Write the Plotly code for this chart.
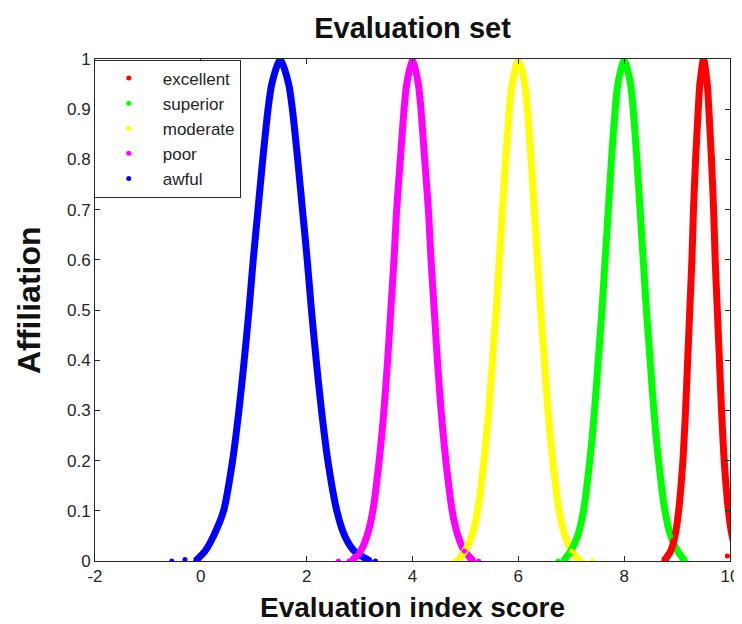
import plotly.graph_objects as go

# ---- data (band centre of each membership curve) ----
y_levels = [0.0, 0.02, 0.05, 0.1, 0.2, 0.3, 0.4, 0.5, 0.6, 0.7, 0.8, 0.9, 0.95, 1.0,
            0.95, 0.9, 0.8, 0.7, 0.6, 0.5, 0.4, 0.3, 0.2, 0.1, 0.05, 0.02, 0.0]

excellent_x = [8.75, 8.88, 8.96, 9.03, 9.11, 9.16, 9.20, 9.24, 9.28, 9.31, 9.35, 9.40, 9.43, 9.50,
               9.57, 9.60, 9.65, 9.69, 9.72, 9.76, 9.80, 9.84, 9.89, 9.97, 10.04, 10.12, 10.25]
superior_x = [6.85, 6.99, 7.12, 7.23, 7.35, 7.44, 7.51, 7.58, 7.64, 7.70, 7.76, 7.83, 7.88, 8.00,
              8.12, 8.17, 8.24, 8.30, 8.36, 8.42, 8.49, 8.56, 8.65, 8.77, 8.88, 9.01, 9.15]
moderate_x = [4.85, 4.99, 5.12, 5.23, 5.35, 5.44, 5.51, 5.58, 5.64, 5.70, 5.76, 5.83, 5.88, 6.00,
              6.12, 6.17, 6.24, 6.30, 6.36, 6.42, 6.49, 6.56, 6.65, 6.77, 6.88, 7.01, 7.15]
poor_x = [2.85, 3.02, 3.14, 3.25, 3.37, 3.46, 3.53, 3.59, 3.65, 3.70, 3.77, 3.84, 3.89, 4.00,
          4.11, 4.16, 4.23, 4.30, 4.35, 4.41, 4.47, 4.54, 4.63, 4.75, 4.86, 4.98, 5.15]
awful_x = [-0.10, 0.08, 0.24, 0.43, 0.60, 0.72, 0.82, 0.91, 0.99, 1.08, 1.17, 1.27, 1.34, 1.50,
           1.66, 1.73, 1.83, 1.92, 2.01, 2.09, 2.18, 2.28, 2.40, 2.57, 2.72, 2.90, 3.20]

# a few isolated dots near the baseline
stray = {
    "excellent": ([8.80, 9.95], [0.0, 0.01]),
    "superior": ([6.75, 9.15, 9.05], [0.0, 0.0, 0.015]),
    "moderate": ([4.80, 7.20, 7.40], [0.0, 0.0, 0.0]),
    "poor": ([2.60, 2.80, 5.25], [0.0, 0.0, 0.0]),
    "awful": ([-0.55, -0.30, 3.30], [0.0, 0.003, 0.0]),
}

series_names = ["excellent", "superior", "moderate", "poor", "awful"]
series_x = [excellent_x, superior_x, moderate_x, poor_x, awful_x]
series_colors = ["#FF0000", "#00FF00", "#FFFF00", "#FF00FF", "#0000FF"]

x_ticks = [-2, 0, 2, 4, 6, 8, 10]
y_ticks = [0, 0.1, 0.2, 0.3, 0.4, 0.5, 0.6, 0.7, 0.8, 0.9, 1]
y_tick_text = ["0", "0.1", "0.2", "0.3", "0.4", "0.5", "0.6", "0.7", "0.8", "0.9", "1"]

FONT = "Liberation Sans, Arial, Helvetica, sans-serif"
AX = "#262626"

fig = go.Figure()

# thick bands (drawn first, no legend)
for name, xs, col in zip(series_names[::-1], series_x[::-1], series_colors[::-1]):
    fig.add_trace(go.Scatter(
        x=xs, y=y_levels, mode="lines", line=dict(color=col, width=7, shape="spline", smoothing=0.7),
        showlegend=False, hoverinfo="skip", legendgroup=name, cliponaxis=True))

# the read points as dots (these carry the legend entries)
for name, xs, col in zip(series_names, series_x, series_colors):
    sx, sy = stray[name]
    fig.add_trace(go.Scatter(
        x=xs + sx, y=y_levels + sy, mode="markers", name=name,
        marker=dict(color=col, size=5, line=dict(width=0)),
        legendgroup=name, cliponaxis=True))

fig.update_layout(
    width=742, height=624,
    margin=dict(l=87, r=11, t=51, b=71),
    paper_bgcolor="white", plot_bgcolor="white",
    font=dict(family=FONT, color=AX),
    showlegend=True,
    title=dict(text="<b>Evaluation set</b>", x=0.5, xref="paper", xanchor="center",
               y=1 - 20 / 624, yanchor="middle", font=dict(size=29, color="#111")),
    legend=dict(x=-0.002, y=0.999, xanchor="left", yanchor="top",
                bordercolor="#262626", borderwidth=1, bgcolor="white",
                font=dict(size=17, color=AX), itemwidth=58,
                traceorder="grouped", tracegroupgap=0),
    xaxis=dict(range=[-2, 10], tickvals=x_ticks, ticktext=[str(v) for v in x_ticks],
               ticks="inside", ticklen=5, tickcolor=AX, showline=True, linecolor=AX,
               linewidth=1, mirror="allticks", showgrid=False, zeroline=False,
               tickfont=dict(size=17, color=AX)),
    yaxis=dict(range=[0, 1], tickvals=y_ticks, ticktext=y_tick_text,
               ticks="inside", ticklen=5, tickcolor=AX, showline=True, linecolor=AX,
               linewidth=1, mirror="allticks", showgrid=False, zeroline=False,
               tickfont=dict(size=17, color=AX)),
    annotations=[
        dict(text="<b>Evaluation index score</b>", x=0.5, xref="paper", y=0, yref="paper",
             yshift=-46, yanchor="middle", xanchor="center", showarrow=False,
             font=dict(size=28, color="#111", family=FONT)),
        dict(text="<b>Affiliation</b>", x=0, xref="paper", y=0.5, yref="paper",
             xshift=-66, yshift=10, xanchor="center", yanchor="middle", textangle=-90,
             showarrow=False, font=dict(size=32, color="#111", family=FONT)),
    ],
)

fig.write_html("out.html")
